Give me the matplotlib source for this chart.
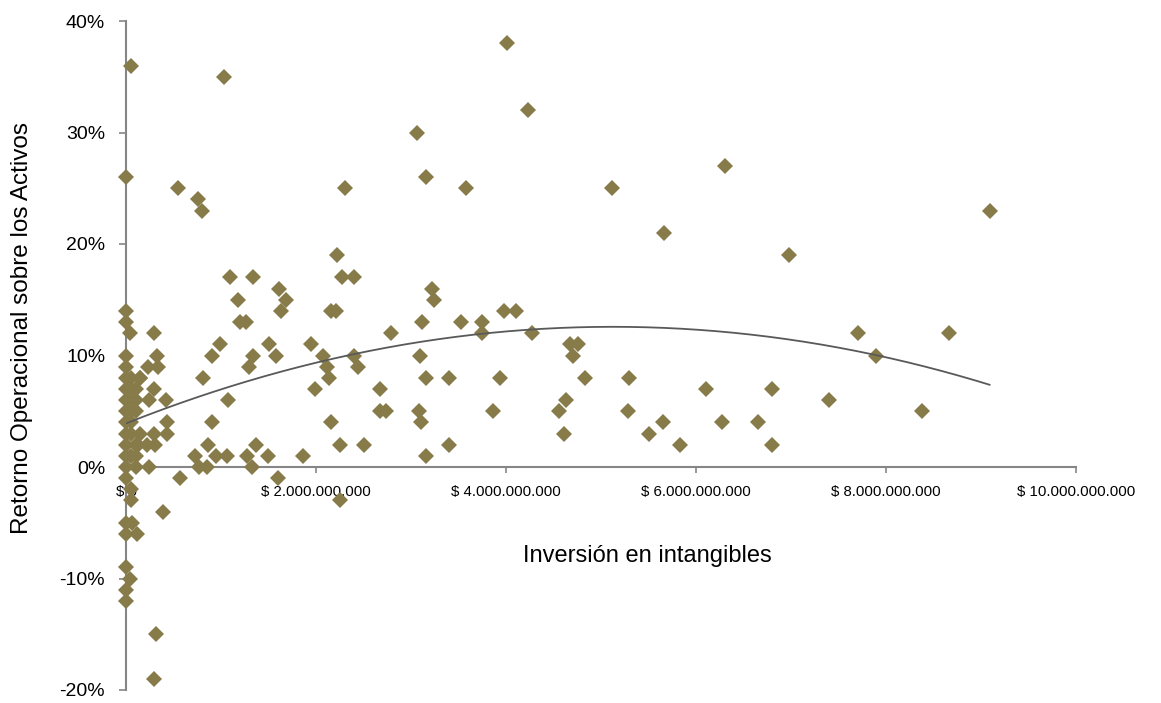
import matplotlib
matplotlib.use("Agg")
import matplotlib.pyplot as plt
from matplotlib.ticker import FuncFormatter
import numpy as np

plt.rcParams['font.family'] = ['Liberation Sans', 'DejaVu Sans']

# inversión en intangibles (miles de millones de $) y retorno operacional (%)
inversion_mm = [
    0.00, 0.05, 0.00, 0.00, 0.04, 0.00, 0.00, 0.00, 0.05, 0.00, 0.05, 0.10,
    0.00, 0.05, 0.10, 0.00, 0.05, 0.10, 0.00, 0.05, 0.00, 0.05, 0.00, 0.10,
    0.00, 0.05, 0.10, 0.00, 0.10, 0.00, 0.05, 0.05, 0.00, 0.06, 0.00, 0.12,
    0.00, 0.04, 0.00, 0.00, 0.15, 0.13, 0.15,
    0.29, 0.33, 0.23, 0.34, 0.15, 0.29, 0.24, 0.42, 0.43, 0.43, 0.29, 0.22,
    0.30, 0.24, 0.39, 0.32, 0.29,
    0.55, 0.76, 0.80, 1.03, 1.09, 1.18, 0.99, 0.91, 0.81, 1.07, 0.91, 0.86,
    0.73, 0.77, 0.85, 0.95, 1.06, 0.57,
    1.20, 1.26, 1.34, 1.61, 1.68, 1.63, 1.50, 1.34, 1.58, 1.29, 1.37, 1.27,
    1.49, 1.33, 1.60,
    2.30, 2.22, 2.27, 2.40, 2.16, 2.21, 1.95, 2.07, 2.40, 2.12, 2.44, 2.14,
    1.99, 2.16, 2.25, 2.50, 1.86, 2.25,
    2.79, 2.67, 2.67, 2.74, 3.06, 3.16, 3.22, 3.24, 3.12, 3.09, 3.16, 3.40,
    3.08, 3.10, 3.40, 3.16, 3.58, 3.53,
    4.01, 4.23, 3.75, 3.75, 3.98, 4.10, 4.27, 3.94, 3.86,
    4.67, 4.76, 4.70, 4.83, 5.29, 4.56, 4.63, 5.28, 4.61, 5.50, 5.65, 5.83,
    5.12, 5.66,
    6.31, 6.98, 9.09, 7.70, 8.66, 7.89, 6.11, 6.80, 7.40, 8.38, 6.27, 6.65,
    6.80,
]
retorno_pct = [
    26, 36, 14, 13, 12, 10, 9, 8, 8, 7, 7, 7,
    6, 6, 6, 5, 5, 5, 4, 4, 3, 3, 2, 2,
    1, 1, 1, 0, 0, -1, -2, -3, -5, -5, -6, -6,
    -9, -10, -11, -12, 8, 2, 3,
    12, 10, 9, 9, 8, 7, 6, 6, 4, 3, 3, 2,
    2, 0, -4, -15, -19,
    25, 24, 23, 35, 17, 15, 11, 10, 8, 6, 4, 2,
    1, 0, 0, 1, 1, -1,
    13, 13, 17, 16, 15, 14, 11, 10, 10, 9, 2, 1,
    1, 0, -1,
    25, 19, 17, 17, 14, 14, 11, 10, 10, 9, 9, 8,
    7, 4, 2, 2, 1, -3,
    12, 7, 5, 5, 30, 26, 16, 15, 13, 10, 8, 8,
    5, 4, 2, 1, 25, 13,
    38, 32, 13, 12, 14, 14, 12, 8, 5,
    11, 11, 10, 8, 8, 5, 6, 5, 3, 3, 4, 2,
    25, 21,
    27, 19, 23, 12, 12, 10, 7, 7, 6, 5, 4, 4,
    2,
]

x = np.array(inversion_mm) * 1e9
y = np.array(retorno_pct, dtype=float)

# tendencia polinómica de orden 2
coef = np.polyfit(x, y, 2)
xt = np.linspace(0, x.max(), 200)
yt = np.polyval(coef, xt)

fig = plt.figure(figsize=(11.61, 7.03), dpi=100)
ax = fig.add_axes([126 / 1161, 13 / 703, 950 / 1161, 669 / 703])

ax.plot(x, y, linestyle='none', marker='D', markersize=8.3,
        color='#877B4A', markeredgewidth=0, clip_on=False, zorder=3)
ax.plot(xt, yt, color='#595959', linewidth=1.3, zorder=4)

ax.set_xlim(0, 10e9)
ax.set_ylim(-20, 40)
ax.set_xticks(np.arange(0, 10.1e9, 2e9))
ax.set_yticks(np.arange(-20, 41, 10))


def fmt_pesos(v, pos):
    return "$ " + f"{v:,.0f}".replace(",", ".")


ax.xaxis.set_major_formatter(FuncFormatter(fmt_pesos))
ax.yaxis.set_major_formatter(FuncFormatter(lambda v, p: f"{v:.0f}%"))

for s in ['top', 'right']:
    ax.spines[s].set_visible(False)
ax.spines['bottom'].set_position(('data', 0))
for s in ['left', 'bottom']:
    ax.spines[s].set_color('#868686')
    ax.spines[s].set_linewidth(1.5)
    ax.spines[s].set_zorder(2)

ax.tick_params(axis='x', direction='out', length=4, width=1.2,
               color='#868686', labelsize=10.8, pad=9)
ax.tick_params(axis='y', direction='out', length=5, width=1.2,
               color='#868686', labelsize=14, pad=10)

fig.text(647 / 1161, 1 - 556 / 703, "Inversión en intangibles",
         ha='center', va='center', fontsize=17)
fig.text(22 / 1161, 1 - 328 / 703, "Retorno Operacional sobre los Activos",
         ha='center', va='center', rotation=90, fontsize=17.5)

fig.savefig("out.png", dpi=100)
